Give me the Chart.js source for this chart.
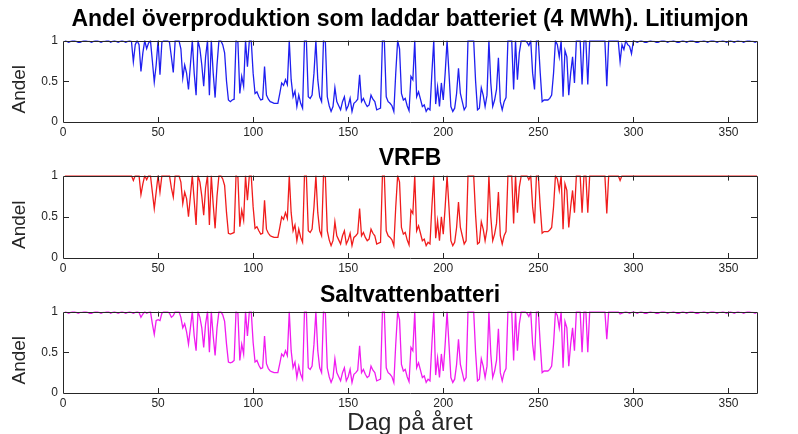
<!DOCTYPE html>
<html><head><meta charset="utf-8">
<script src="https://cdn.jsdelivr.net/npm/chart.js@4/dist/chart.umd.min.js"></script>
<style>
html,body{margin:0;padding:0;background:#fff;width:798px;height:434px;overflow:hidden;position:relative}
canvas{position:absolute;left:0}
</style></head><body>
<canvas id="c1" width="798" height="140" style="top:0"></canvas>
<canvas id="c2" width="798" height="135" style="top:140px"></canvas>
<canvas id="c3" width="798" height="163" style="top:275px"></canvas>
<script>
const titles = ["Andel överproduktion som laddar batteriet (4 MWh). Litiumjon", "VRFB", "Saltvattenbatteri"];
const yLabel = "Andel";
const xLabel = "Dag på året";
const xTicks = [0, 50, 100, 150, 200, 250, 300, 350];
const yTicks = [0, 0.5, 1];

const litiumjon = [
1,.99,.98,.99,1,1,.99,.98,.98,.99,
1,1,.99,.99,.98,.99,1,1,.99,.98,
.99,.99,1,1,.98,.99,1,.99,.98,.99,
1,.99,.98,.99,1,.99,.74,.95,1,.95,
.62,.85,1,.9,.97,1,.75,.49,.7,1,
.58,.98,1,1,1,.98,.8,.61,1,1,
1,.9,.54,.7,.6,.4,.7,1,.6,.33,
1,.9,.7,.44,.8,1,.33,1,.6,.3,
.7,1,1,.95,.85,.5,.27,.25,.27,.28,
1,.98,.35,.56,.44,1,.68,1,1,.6,
.35,.37,.31,.27,.28,.68,.33,.28,.25,.24,
.23,.23,.23,.35,.48,.45,.52,.46,1,.52,
.31,.38,.19,.33,.23,.17,1,1,.31,.29,
.33,.6,1,.52,.31,.25,1,.98,.31,.2,
.13,.19,.42,.25,.2,.15,.25,.31,.15,.2,
.29,.13,.23,.25,.28,.58,.25,.29,.23,.19,
.21,.33,.28,.25,.15,.16,.17,1,1,.31,
.25,.23,.2,.13,.6,1,.9,.35,.27,.29,
.2,.14,.56,.52,1,.31,.37,.28,.19,.21,
.13,.17,.15,.6,1,.22,.43,.19,.48,.27,
.6,1,.6,.19,.13,.17,.35,.66,.35,.25,
.15,.19,1,1,1,1,.5,.15,.17,.42,
.33,.19,.33,1,.48,.19,.27,.4,.79,.25,
.15,.25,.3,1,1,1,.4,1,.52,.85,
1,1,1,.98,.94,1,.6,.4,1,1,
.6,.25,.27,.27,.27,.29,.33,.6,1,.95,
.8,1,.31,.88,.8,.33,.6,.8,.48,1,
1,1,.46,1,1,.46,1,1,1,1,
1,1,1,1,1,.44,1,1,1,1,
1,1,.74,.95,.89,1,.95,.93,.84,1,
.99,.98,.99,1,.99,.98,.98,.99,1,.99,
.99,.98,.98,.99,1,1,.99,.98,.99,.99,
1,.99,.98,.98,.99,1,.99,.98,.99,1,
1,.99,.98,.98,.99,.99,1,.99,.98,.99,
1,1,.99,.98,.99,.99,1,.99,.98,.99,
1,.99,.98,.99,1,.99,.99,.98,.99,1,
1,.99,.99,.98,.99];

const vrfb = [
1,1,1,1,1,1,1,1,1,1,
1,1,1,1,1,1,1,1,1,1,
1,1,1,1,1,1,1,1,1,1,
1,1,1,1,1,1,.94,1,1,1,
.77,.9,1,.95,1,1,.8,.6,.8,1,
.8,1,1,1,1,1,.85,.74,1,1,
1,.92,.66,.8,.72,.5,.75,1,.7,.4,
1,.92,.75,.52,.85,1,.4,1,.65,.36,
.75,1,1,.96,.88,.55,.3,.29,.3,.31,
1,.98,.38,.58,.46,1,.7,1,1,.62,
.36,.38,.33,.29,.3,.7,.35,.3,.27,.26,
.25,.25,.25,.37,.5,.47,.55,.48,1,.55,
.33,.4,.21,.35,.25,.19,1,1,.33,.31,
.35,.62,1,.55,.33,.27,1,.98,.33,.22,
.15,.21,.44,.27,.22,.17,.27,.33,.17,.22,
.3,.15,.25,.27,.3,.6,.27,.31,.25,.21,
.23,.35,.3,.27,.17,.18,.19,1,1,.33,
.27,.25,.22,.15,.62,1,.92,.37,.29,.31,
.22,.16,.58,.54,1,.33,.39,.3,.21,.23,
.15,.19,.17,.62,1,.24,.45,.21,.5,.29,
.62,1,.62,.21,.15,.19,.37,.68,.37,.27,
.17,.21,1,1,1,1,.52,.17,.19,.44,
.35,.21,.35,1,.5,.21,.29,.42,.8,.27,
.17,.27,.32,1,1,1,.42,1,.55,.86,
1,1,1,1,.95,1,.62,.42,1,1,
.62,.3,.32,.32,.32,.34,.37,.62,1,.96,
.82,1,.35,.9,.82,.37,.62,.82,.55,1,
1,1,.55,1,1,.55,1,1,1,1,
1,1,1,1,1,.54,1,1,1,1,
1,1,.94,1,1,1,1,1,1,1,
1,1,1,1,1,1,1,1,1,1,
1,1,1,1,1,1,1,1,1,1,
1,1,1,1,1,1,1,1,1,1,
1,1,1,1,1,1,1,1,1,1,
1,1,1,1,1,1,1,1,1,1,
1,1,1,1,1,1,1,1,1,1,
1,1,1,1,1];

const saltvatten = [
1,.99,.98,.99,1,1,.99,.98,.99,.99,
1,1,.99,.98,.98,.99,1,1,.99,.98,
.99,.99,1,1,.98,.99,1,.99,.98,.99,
1,.99,.98,.99,1,.99,.98,.99,1,.99,
.93,.97,1,.98,.99,1,.85,.72,.89,.9,
.89,.98,1,1,1,.98,.93,.95,1,1,
1,.93,.8,.85,.75,.6,.8,1,.7,.52,
1,.93,.8,.56,.85,1,.5,1,.7,.46,
.8,1,1,.96,.88,.6,.38,.37,.38,.4,
1,.98,.4,.6,.48,1,.7,1,1,.62,
.38,.4,.34,.3,.31,.7,.36,.3,.27,.26,
.25,.25,.25,.36,.48,.45,.52,.46,1,.52,
.31,.38,.19,.33,.23,.17,1,1,.31,.29,
.33,.6,1,.52,.31,.25,1,.98,.31,.2,
.13,.19,.42,.25,.2,.15,.25,.31,.15,.2,
.29,.13,.23,.25,.28,.58,.25,.29,.23,.19,
.21,.33,.28,.25,.15,.16,.17,1,1,.31,
.25,.23,.2,.13,.6,1,.9,.35,.27,.29,
.2,.14,.56,.52,1,.31,.37,.28,.19,.21,
.13,.17,.15,.6,1,.22,.43,.19,.48,.27,
.6,1,.6,.19,.13,.17,.35,.66,.35,.25,
.15,.19,1,1,1,1,.5,.15,.17,.42,
.33,.19,.33,1,.48,.19,.27,.4,.79,.25,
.15,.25,.3,1,1,1,.4,1,.52,.85,
1,1,1,.98,.94,1,.6,.4,1,1,
.6,.25,.27,.27,.27,.29,.33,.6,1,.95,
.8,1,.31,.88,.8,.33,.6,.8,.52,1,
1,1,.5,1,1,.5,1,1,1,1,
1,1,1,1,1,.66,1,1,1,1,
1,1,.97,.98,.99,1,.99,.98,.99,1,
.99,.98,.99,1,.99,.98,.98,.99,1,.99,
.99,.98,.98,.99,1,1,.99,.98,.99,.99,
1,.99,.98,.98,.99,1,.99,.98,.99,1,
1,.99,.98,.98,.99,.99,1,.99,.98,.99,
1,1,.99,.98,.99,.99,1,.99,.98,.99,
1,.99,.98,.99,1,.99,.99,.98,.99,1,
1,.99,.99,.98,.99];

const FONT = "'Liberation Sans', Arial, Helvetica, sans-serif";
const AX = '#262626';

const boxTicks = {
  id: 'boxTicks',
  afterDatasetsDraw(chart) {
    const {ctx, chartArea: {left, right, top, bottom}, scales: {x, y}} = chart;
    ctx.save();
    ctx.strokeStyle = AX;
    ctx.lineWidth = 1;
    ctx.beginPath();
    ctx.rect(Math.round(left) + 0.5, Math.round(top) + 0.5, Math.round(right - left), Math.round(bottom - top));
    x.ticks.forEach(t => {
      const px = Math.round(x.getPixelForValue(t.value)) + 0.5;
      if (px <= left + 1 || px >= right - 1) return;
      ctx.moveTo(px, bottom); ctx.lineTo(px, bottom - 5);
      ctx.moveTo(px, top); ctx.lineTo(px, top + 5);
    });
    y.ticks.forEach(t => {
      const py = Math.round(y.getPixelForValue(t.value)) + 0.5;
      if (py <= top + 1 || py >= bottom - 1) return;
      ctx.moveTo(left, py); ctx.lineTo(left + 6, py);
      ctx.moveTo(right, py); ctx.lineTo(right - 6, py);
    });
    ctx.stroke();
    ctx.restore();
  }
};

function makeChart(id, title, values, color, L) {
  const pts = values.map((v, i) => ({x: i + 1, y: v}));
  return new Chart(document.getElementById(id), {
    type: 'line',
    data: {datasets: [{data: pts, borderColor: color, borderWidth: 1.3, pointRadius: 0, tension: 0, fill: false}]},
    plugins: [boxTicks],
    options: {
      responsive: false, animation: false, events: [],
      layout: {padding: {top: L.padTop, left: 0, right: 41, bottom: 0}},
      plugins: {
        legend: {display: false}, tooltip: {enabled: false},
        title: {display: true, fullSize: false, text: title, color: '#000', font: {family: FONT, size: 23, weight: 'bold'},
                padding: {top: 0, bottom: L.titleGap}}
      },
      scales: {
        x: {
          type: 'linear', min: 0, max: 365,
          afterBuildTicks: s => { s.ticks = xTicks.map(v => ({value: v})); },
          afterFit: s => { s.height = L.xh; },
          grid: {display: false, drawTicks: false}, border: {display: false},
          ticks: {color: AX, font: {family: FONT, size: 12}, padding: 3, maxRotation: 0, autoSkip: false},
          title: {display: !!L.xTitle, text: xLabel, color: AX, font: {family: FONT, size: 24}, padding: {top: 0, bottom: 0}}
        },
        y: {
          min: 0, max: 1,
          afterBuildTicks: s => { s.ticks = yTicks.map(v => ({value: v})); },
          afterFit: s => { s.width = 63; },
          grid: {display: false, drawTicks: false}, border: {display: false},
          ticks: {color: AX, font: {family: FONT, size: 12}, padding: 5, callback: v => String(v)},
          title: {display: true, text: yLabel + '   ', color: AX, font: {family: FONT, size: 19}, padding: {top: 8, bottom: 4}}
        }
      }
    }
  });
}

makeChart('c1', titles[0], litiumjon, '#1f1ff0', {padTop: 6, titleGap: 7, xh: 18});
makeChart('c2', titles[1], vrfb, '#f01c1c', {padTop: 5, titleGap: 3, xh: 17});
makeChart('c3', titles[2], saltvatten, '#f01cf0', {padTop: 7, titleGap: 2, xh: 45, xTitle: true});
</script>
</body></html>
